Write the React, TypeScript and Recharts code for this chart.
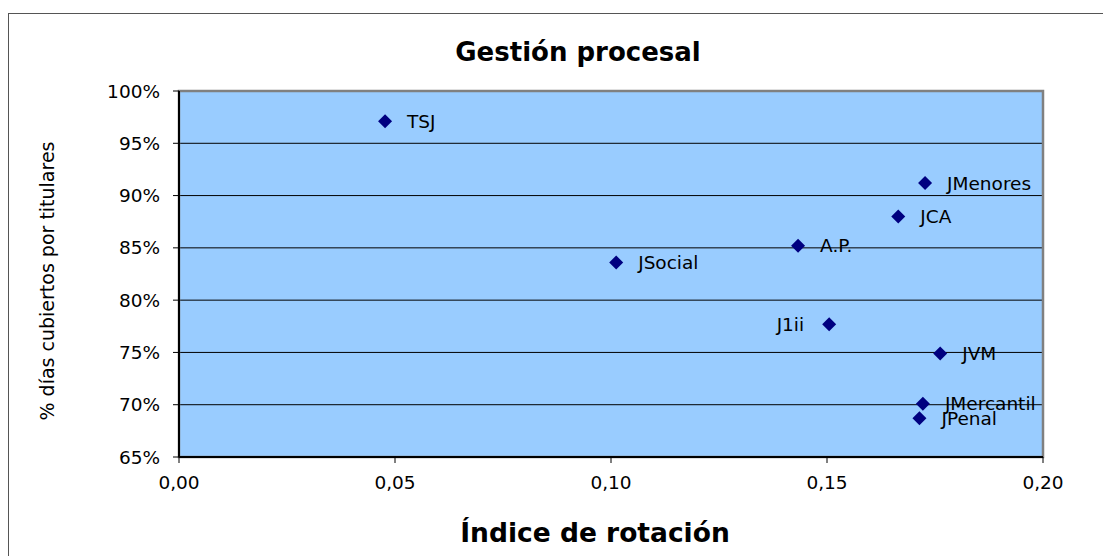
import React from 'react';
import { ScatterChart, Scatter, XAxis, YAxis, CartesianGrid, ReferenceArea } from 'recharts';

const courts = ['TSJ', 'JSocial', 'A.P.', 'JCA', 'JMenores', 'J1ii', 'JVM', 'JMercantil', 'JPenal'];
const rotation = [0.0477, 0.1012, 0.1433, 0.1665, 0.1727, 0.1505, 0.1762, 0.1722, 0.1714];
const coverage = [97.1, 83.6, 85.2, 88.0, 91.2, 77.7, 74.9, 70.1, 68.7];
const leftLabels = ['J1ii'];

const xTicks = [0, 0.05, 0.1, 0.15, 0.2];
const yTicks = [65, 70, 75, 80, 85, 90, 95, 100];

const data = courts.map((name, i) => ({ name, x: rotation[i], y: coverage[i] }));

const FONT = '"DejaVu Sans", Verdana, sans-serif';

const DiamondLabel = (props: any) => {
  const { cx, cy, payload } = props;
  const r = 7;
  const left = leftLabels.includes(payload.name);
  return (
    <g>
      <polygon
        points={`${cx},${cy - r} ${cx + r},${cy} ${cx},${cy + r} ${cx - r},${cy}`}
        fill="#000080"
      />
      <text
        x={left ? cx - 25 : cx + 22}
        y={cy}
        dy="0.36em"
        textAnchor={left ? 'end' : 'start'}
        fontSize={18.5}
        fontFamily={FONT}
        fill="#000"
      >
        {payload.name}
      </text>
    </g>
  );
};

const App: React.FC = () => {
  return (
    <div
      style={{
        position: 'relative',
        marginTop: 5,
        width: 1102,
        height: 542,
        borderTop: '1px solid #555',
        borderLeft: '1px solid #555',
        background: '#fff',
        fontFamily: FONT,
      }}
    >
      <div
        style={{
          position: 'absolute',
          left: 569,
          top: 23,
          transform: 'translateX(-50%)',
          fontSize: 26,
          fontWeight: 'bold',
          lineHeight: '30px',
          whiteSpace: 'nowrap',
        }}
      >
        Gestión procesal
      </div>
      <div
        style={{
          position: 'absolute',
          left: 586,
          top: 503,
          transform: 'translateX(-50%)',
          fontSize: 26.5,
          fontWeight: 'bold',
          lineHeight: '32px',
          whiteSpace: 'nowrap',
        }}
      >
        Índice de rotación
      </div>
      <div
        style={{
          position: 'absolute',
          left: 38,
          top: 267,
          transform: 'translate(-50%, -50%) rotate(-90deg)',
          fontSize: 19,
          lineHeight: '22px',
          whiteSpace: 'nowrap',
        }}
      >
        % días cubiertos por titulares
      </div>
      <ScatterChart width={1102} height={542} margin={{ top: 77, right: 68, bottom: 69, left: 0 }}>
        <CartesianGrid fill="#99CCFF" vertical={false} stroke="#000" strokeOpacity={1} />
        <ReferenceArea x1={0} x2={0.2} y1={65} y2={100} fill="none" stroke="#808080" strokeWidth={2.5} />
        <XAxis
          type="number"
          dataKey="x"
          domain={[0, 0.2]}
          ticks={xTicks}
          height={30}
          tickSize={6}
          tickMargin={13}
          axisLine={{ stroke: '#000', strokeWidth: 2 }}
          tickLine={{ stroke: '#000' }}
          tick={{ fill: '#000', fontSize: 18.5, fontFamily: FONT }}
          tickFormatter={(v: number) => v.toFixed(2).replace('.', ',')}
        />
        <YAxis
          type="number"
          dataKey="y"
          domain={[65, 100]}
          ticks={yTicks}
          width={170}
          tickSize={6}
          tickMargin={13}
          axisLine={{ stroke: '#000', strokeWidth: 2 }}
          tickLine={{ stroke: '#000' }}
          tick={{ fill: '#000', fontSize: 18.5, fontFamily: FONT }}
          tickFormatter={(v: number) => `${v}%`}
        />
        <Scatter data={data} shape={<DiamondLabel />} isAnimationActive={false} />
      </ScatterChart>
    </div>
  );
};

export default App;
